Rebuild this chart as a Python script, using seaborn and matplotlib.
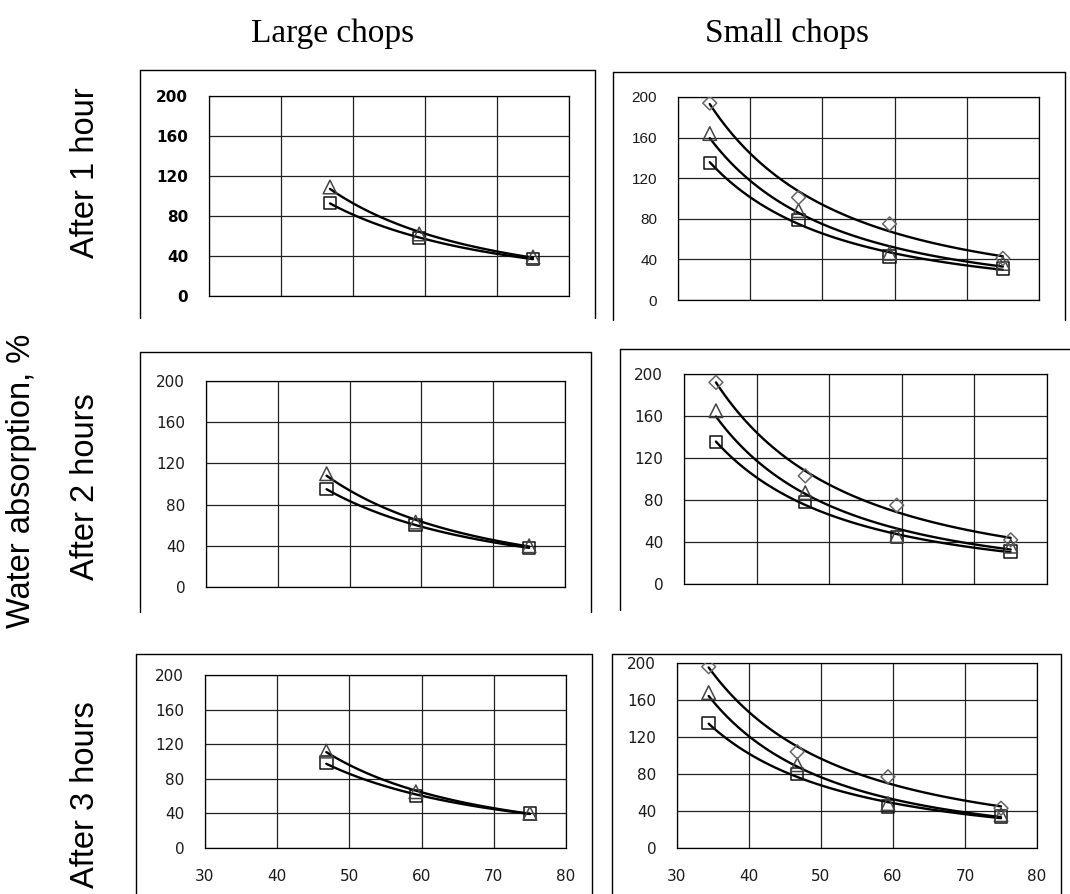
import numpy as np
import pandas as pd
import matplotlib
matplotlib.use("Agg")
import matplotlib.pyplot as plt
from matplotlib.lines import Line2D
import seaborn as sns


# --- data ---
# x = dry matter content (30..80), y = water absorption, %
x_large = [46.8, 59.2, 75.0]
x_small = [34.4, 46.7, 59.3, 75.0]

large_1h_sq = [93, 58, 37]
large_1h_tri = [109, 62, 39]
large_2h_sq = [95, 60, 38]
large_2h_tri = [110, 63, 40]
large_3h_sq = [99, 60, 40]
large_3h_tri = [112, 65, 40]

small_1h_sq = [135, 79, 43, 31]
small_1h_tri = [164, 88, 46, 36]
small_1h_dia = [194, 101, 75, 41]
small_2h_sq = [135, 78, 45, 31]
small_2h_tri = [165, 87, 46, 36]
small_2h_dia = [192, 103, 75, 42]
small_3h_sq = [135, 80, 45, 34]
small_3h_tri = [168, 90, 48, 36]
small_3h_dia = [196, 104, 77, 43]

col_titles = ["Large chops", "Small chops"]
row_titles = ["After 1 hour", "After 2 hours", "After 3 hours"]
y_title = "Water absorption, %"
x_ticks = [30, 40, 50, 60, 70, 80]
y_ticks = [0, 40, 80, 120, 160, 200]

sns.set_style("white")
plt.rcParams['font.family'] = ['DejaVu Sans']
plt.rcParams['text.color'] = 'black'

W, H = 1070, 894
fig = plt.figure(figsize=(W / 100, H / 100), dpi=100)


def fx(px):
    return px / W


def fy(py):
    return 1 - py / H


# plot areas in pixels: left, right, top, bottom
areas = [
    (209, 569, 96, 296), (678, 1039, 97, 300),
    (206, 565, 381, 587), (684, 1047, 374, 584),
    (205, 566, 675, 848), (677, 1037, 663, 848),
]
# outer chart frames (open at bottom): left, right, top, bottom of sides
frames = [
    (140, 595, 70, 318), (613, 1065, 72, 320),
    (140, 591, 352, 612), (620, 1075, 349, 610),
    (136, 592, 654, 900), (612, 1061, 654, 900),
]

panels = [
    (x_large, [(large_1h_sq, 's'), (large_1h_tri, '^')]),
    (x_small, [(small_1h_sq, 's'), (small_1h_tri, '^'), (small_1h_dia, 'D')]),
    (x_large, [(large_2h_sq, 's'), (large_2h_tri, '^')]),
    (x_small, [(small_2h_sq, 's'), (small_2h_tri, '^'), (small_2h_dia, 'D')]),
    (x_large, [(large_3h_sq, 's'), (large_3h_tri, '^')]),
    (x_small, [(small_3h_sq, 's'), (small_3h_tri, '^'), (small_3h_dia, 'D')]),
]

marker_style = {'s': ('#111111', 80), '^': ('#444444', 95), 'D': ('#666666', 50)}

for i, ((l, r, t, b), (fl, fr, ft, fb), (xs, series)) in enumerate(zip(areas, frames, panels)):
    # frame around each chart
    kw = dict(color='black', lw=1.0, transform=fig.transFigure)
    fig.add_artist(Line2D([fx(fl), fx(fl)], [fy(fb), fy(ft)], **kw))
    fig.add_artist(Line2D([fx(fl), fx(fr)], [fy(ft), fy(ft)], **kw))
    fig.add_artist(Line2D([fx(fr), fx(fr)], [fy(ft), fy(fb)], **kw))

    ax = fig.add_axes([fx(l), fy(b), fx(r - l), (b - t) / H])

    for ys, m in series:
        # power trendline y = a * x^b, fitted like a spreadsheet trendline
        bcoef, lna = np.polyfit(np.log(xs), np.log(ys), 1)
        xx = np.linspace(min(xs), max(xs), 120)
        yy = np.exp(lna) * xx ** bcoef
        sns.lineplot(x=xx, y=yy, color='black', lw=1.7, ax=ax)
        ec, size = marker_style[m]
        sns.scatterplot(x=xs, y=ys, marker=m, s=size, facecolors='none',
                        edgecolors=ec, linewidths=1.1, ax=ax, zorder=3)

    ax.set_xlim(30, 80)
    ax.set_ylim(0, 200)
    ax.set_xticks(x_ticks)
    ax.set_yticks(y_ticks)
    ax.grid(True, color='#222222', lw=0.9)
    ax.set_axisbelow(True)
    for sp in ax.spines.values():
        sp.set_color('black')
        sp.set_linewidth(0.9)
    ax.tick_params(length=0, pad=15, labelcolor='#1a1a1a')
    if i == 0:
        ax.set_yticks(y_ticks, [str(v) for v in y_ticks], fontsize=11, fontweight='bold',
                      color='black')
    elif i == 1:
        ax.set_yticks(y_ticks, [str(v) for v in y_ticks], fontsize=11, family='Liberation Sans')
    else:
        ax.set_yticks(y_ticks, [str(v) for v in y_ticks], fontsize=11)
    if i >= 4:
        ax.set_xticks(x_ticks, [str(v) for v in x_ticks], fontsize=11)
    else:
        ax.set_xticklabels([])
    ax.set_xlabel('')
    ax.set_ylabel('')

# column titles
for txt, cx in zip(col_titles, [333, 787]):
    fig.text(fx(cx), fy(42), txt, ha='center', va='baseline',
             family='Liberation Serif', fontsize=24, color='black')

# row titles
for txt, cy in zip(row_titles, [173, 487, 795]):
    fig.text(fx(86), fy(cy), txt, ha='center', va='center', rotation=90,
             family='Liberation Sans', fontsize=23.5, color='black')

fig.text(fx(22), fy(481), y_title, ha='center', va='center', rotation=90,
         family='Liberation Sans', fontsize=23.5, color='black')

fig.savefig('out.png', dpi=100)
